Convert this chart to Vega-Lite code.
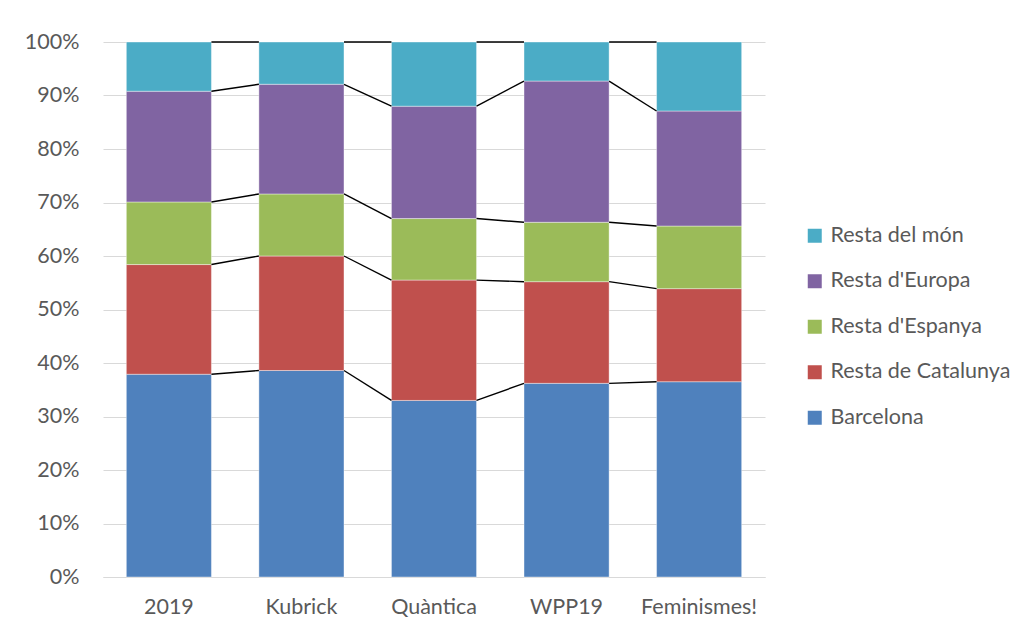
{
  "$schema": "https://vega.github.io/schema/vega-lite/v6.json",
  "width": 662,
  "height": 535,
  "autosize": {"type": "none"},
  "padding": {"left": 103, "top": 42, "right": 261, "bottom": 53},
  "background": "white",
  "config": {
    "view": {"stroke": null},
    "font": "Lato",
    "axis": {"labelFont": "Lato", "labelFontSize": 21.5, "labelColor": "#595959"},
    "legend": {"labelFont": "Lato", "labelFontSize": 21.5, "labelColor": "#595959", "labelLimit": 300}
  },
  "data": {
    "values": [
      {"cat": "2019", "order": 1, "series": "Barcelona", "lo": 0, "hi": 37.9},
      {"cat": "2019", "order": 1, "series": "Resta de Catalunya", "lo": 37.9, "hi": 58.4},
      {"cat": "2019", "order": 1, "series": "Resta d'Espanya", "lo": 58.4, "hi": 70.1},
      {"cat": "2019", "order": 1, "series": "Resta d'Europa", "lo": 70.1, "hi": 90.8},
      {"cat": "2019", "order": 1, "series": "Resta del món", "lo": 90.8, "hi": 100},
      {"cat": "Kubrick", "order": 2, "series": "Barcelona", "lo": 0, "hi": 38.6},
      {"cat": "Kubrick", "order": 2, "series": "Resta de Catalunya", "lo": 38.6, "hi": 60.0},
      {"cat": "Kubrick", "order": 2, "series": "Resta d'Espanya", "lo": 60.0, "hi": 71.6},
      {"cat": "Kubrick", "order": 2, "series": "Resta d'Europa", "lo": 71.6, "hi": 92.1},
      {"cat": "Kubrick", "order": 2, "series": "Resta del món", "lo": 92.1, "hi": 100},
      {"cat": "Quàntica", "order": 3, "series": "Barcelona", "lo": 0, "hi": 33.0},
      {"cat": "Quàntica", "order": 3, "series": "Resta de Catalunya", "lo": 33.0, "hi": 55.5},
      {"cat": "Quàntica", "order": 3, "series": "Resta d'Espanya", "lo": 55.5, "hi": 67.0},
      {"cat": "Quàntica", "order": 3, "series": "Resta d'Europa", "lo": 67.0, "hi": 88.0},
      {"cat": "Quàntica", "order": 3, "series": "Resta del món", "lo": 88.0, "hi": 100},
      {"cat": "WPP19", "order": 4, "series": "Barcelona", "lo": 0, "hi": 36.2},
      {"cat": "WPP19", "order": 4, "series": "Resta de Catalunya", "lo": 36.2, "hi": 55.2},
      {"cat": "WPP19", "order": 4, "series": "Resta d'Espanya", "lo": 55.2, "hi": 66.3},
      {"cat": "WPP19", "order": 4, "series": "Resta d'Europa", "lo": 66.3, "hi": 92.7},
      {"cat": "WPP19", "order": 4, "series": "Resta del món", "lo": 92.7, "hi": 100},
      {"cat": "Feminismes!", "order": 5, "series": "Barcelona", "lo": 0, "hi": 36.5},
      {"cat": "Feminismes!", "order": 5, "series": "Resta de Catalunya", "lo": 36.5, "hi": 53.9},
      {"cat": "Feminismes!", "order": 5, "series": "Resta d'Espanya", "lo": 53.9, "hi": 65.6},
      {"cat": "Feminismes!", "order": 5, "series": "Resta d'Europa", "lo": 65.6, "hi": 87.1},
      {"cat": "Feminismes!", "order": 5, "series": "Resta del món", "lo": 87.1, "hi": 100}
    ]
  },
  "transform": [
    {
      "window": [
        {"op": "lead", "field": "hi", "as": "nextHi"},
        {"op": "lead", "field": "cat", "as": "nextCat"}
      ],
      "groupby": ["series"],
      "sort": [{"field": "order", "order": "ascending"}]
    }
  ],
  "encoding": {
    "x": {
      "field": "cat",
      "type": "nominal",
      "sort": ["2019", "Kubrick", "Quàntica", "WPP19", "Feminismes!"],
      "scale": {"paddingInner": 0.358, "paddingOuter": 0.176},
      "axis": {
        "title": null,
        "labelAngle": 0,
        "ticks": false,
        "labelPadding": 19,
        "domainColor": "#D9D9D9",
        "domainWidth": 1,
        "grid": false
      }
    },
    "y": {
      "field": "hi",
      "type": "quantitative",
      "scale": {"domain": [0, 100], "nice": false},
      "axis": {
        "title": null,
        "values": [0, 10, 20, 30, 40, 50, 60, 70, 80, 90, 100],
        "labelExpr": "datum.value + '%'",
        "ticks": false,
        "domain": false,
        "labelPadding": 24,
        "gridColor": "#D9D9D9",
        "gridWidth": 1
      }
    }
  },
  "layer": [
    {
      "mark": {"type": "bar", "stroke": "#ffffff", "strokeOpacity": 0.5, "strokeWidth": 0.8},
      "encoding": {
        "y": {"field": "lo", "type": "quantitative"},
        "y2": {"field": "hi"},
        "color": {
          "field": "series",
          "type": "nominal",
          "scale": {
            "domain": ["Barcelona", "Resta de Catalunya", "Resta d'Espanya", "Resta d'Europa", "Resta del món"],
            "range": ["#4F81BD", "#C0504D", "#9BBB59", "#8064A2", "#4BACC6"]
          },
          "legend": {
            "title": null,
            "orient": "none",
            "legendX": 701,
            "legendY": 183,
            "padding": 0,
            "values": ["Resta del món", "Resta d'Europa", "Resta d'Espanya", "Resta de Catalunya", "Barcelona"],
            "symbolType": "square",
            "symbolSize": 196,
            "symbolStrokeWidth": 0,
            "symbolOpacity": 1,
            "labelOffset": 5,
            "rowPadding": 22.5
          }
        }
      }
    },
    {
      "transform": [{"filter": "datum.nextCat != null"}],
      "mark": {"type": "rule", "color": "black", "strokeWidth": 1.4},
      "encoding": {
        "x": {"field": "cat", "type": "nominal", "bandPosition": 1},
        "x2": {"field": "nextCat", "bandPosition": 0},
        "y": {"field": "hi", "type": "quantitative"},
        "y2": {"field": "nextHi"}
      }
    }
  ]
}
